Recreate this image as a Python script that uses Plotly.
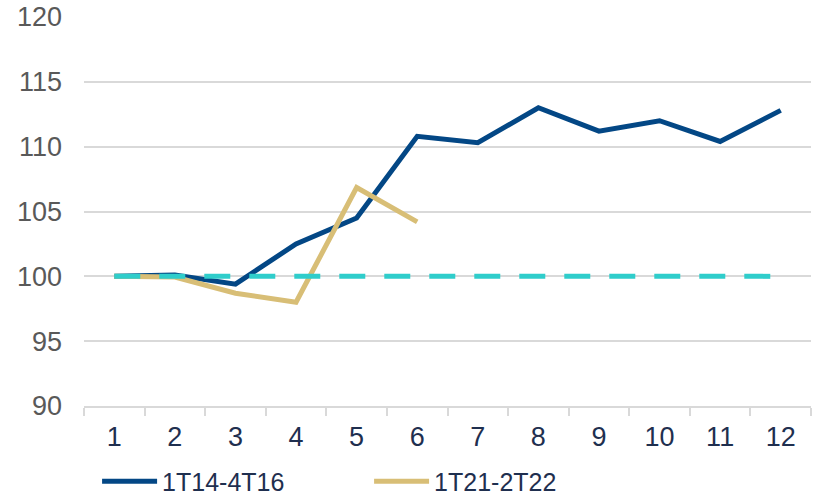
import plotly.graph_objects as go

categories = ["1", "2", "3", "4", "5", "6", "7", "8", "9", "10", "11", "12"]
series_2014 = [100.0, 100.1, 99.4, 102.5, 104.5, 110.8, 110.3, 113.0, 111.2, 112.0, 110.4, 112.8]
series_2021 = [100.0, 99.95, 98.7, 98.0, 106.85, 104.2]
baseline = [100] * 12
y_ticks = [90, 95, 100, 105, 110, 115, 120]

FONT = "Liberation Sans, Arial, sans-serif"

fig = go.Figure()
fig.add_trace(go.Scatter(x=categories, y=series_2014, mode="lines", name="1T14-4T16",
                         line=dict(color="#034785", width=5)))
fig.add_trace(go.Scatter(x=categories[:len(series_2021)], y=series_2021, mode="lines", name="1T21-2T22",
                         line=dict(color="#D8BE76", width=5)))
fig.add_trace(go.Scatter(x=categories, y=baseline, mode="lines", showlegend=False,
                         line=dict(color="#2FCDCB", width=5, dash="26px,19px")))

fig.update_layout(
    width=819, height=496,
    margin=dict(l=84, r=8, t=17, b=90, autoexpand=False),
    paper_bgcolor="white", plot_bgcolor="white",
    font=dict(family=FONT, size=27, color="#595959"),
    showlegend=True,
    legend=dict(orientation="h", x=0.018, xanchor="left", y=-0.135, yanchor="top",
                font=dict(size=25, color="#1F2F4F"), entrywidth=202, entrywidthmode="pixels",
                itemwidth=55, tracegroupgap=0),
)
fig.update_xaxes(type="category", range=[-0.5, 11.5], showgrid=False,
                 showline=True, linecolor="#D9D9D9", linewidth=1.5,
                 ticks="outside", tickson="boundaries", ticklen=8, tickcolor="#D9D9D9", tickwidth=1.5,
                 tickfont=dict(size=27, color="#1F2F4F"), ticklabelstandoff=6)
fig.update_yaxes(range=[90, 120], tickvals=y_ticks, showgrid=True, gridcolor="#D9D9D9", gridwidth=1.5,
                 zeroline=False, showline=False, ticks="",
                 tickfont=dict(size=27, color="#595959"), ticklabelstandoff=21)

fig.write_html("out.html")
